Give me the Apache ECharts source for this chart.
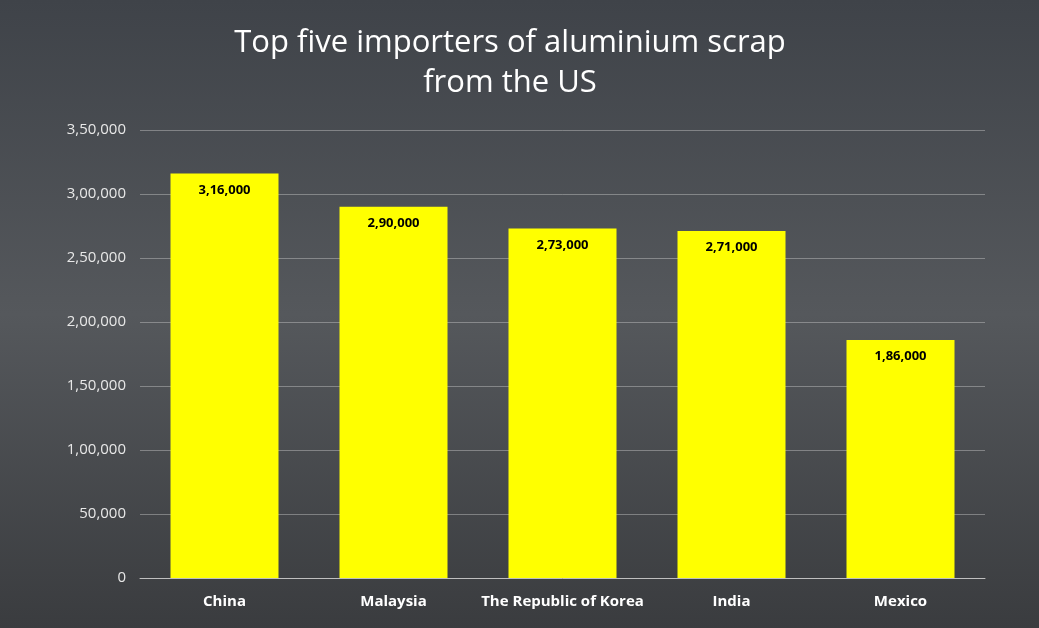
<!DOCTYPE html>
<html><head><meta charset="utf-8">
<script src="https://cdn.jsdelivr.net/npm/echarts@6/dist/echarts.min.js"></script>
<style>html,body{margin:0;padding:0;background:#4a4d52;}#c{width:1039px;height:628px;}</style>
</head><body><div id="c"></div>
<script>
const categories = ["China","Malaysia","The Republic of Korea","India","Mexico"];
const values = [316000,290000,273000,271000,186000];
function indian(v){
  v=Math.round(v); let s=String(v);
  if(s.length<=3) return s;
  let last=s.slice(-3), rest=s.slice(0,-3);
  rest=rest.replace(/\B(?=(\d{2})+(?!\d))/g,",");
  return rest+","+last;
}
const chart = echarts.init(document.getElementById('c'));
chart.setOption({
  backgroundColor: {type:'linear',x:0,y:0,x2:0,y2:1,colorStops:[{offset:0,color:'#3f4349'},{offset:0.5,color:'#55585c'},{offset:1,color:'#3a3c3f'}]},
  title:{text:"Top five importers of aluminium scrap\nfrom the US",left:505,top:18,textAlign:'center',
    textStyle:{color:'#ffffff',fontSize:31,fontWeight:'normal',fontFamily:'Open Sans',lineHeight:40}},
  grid:{left:140,right:54,top:130,bottom:50},
  xAxis:{type:'category',data:categories,
    axisLine:{lineStyle:{color:'#bfbfbf'}},axisTick:{show:false},
    axisLabel:{interval:0,color:'#ffffff',fontWeight:'bold',fontSize:15,fontFamily:'Open Sans',margin:16}},
  yAxis:{type:'value',min:0,max:350000,interval:50000,
    axisLine:{show:false},axisTick:{show:false},
    splitLine:{lineStyle:{color:'rgba(200,200,200,0.45)'}},
    axisLabel:{color:'#e8e8e8',fontSize:15,fontFamily:'Open Sans',margin:14,formatter:indian}},
  series:[{type:'bar',data:values,barWidth:108,itemStyle:{color:'#ffff00'},
    label:{show:true,position:'insideTop',distance:10,color:'#000',fontWeight:'bold',fontSize:13,fontFamily:'Open Sans',formatter:p=>indian(p.value)}}]
});
</script></body></html>
